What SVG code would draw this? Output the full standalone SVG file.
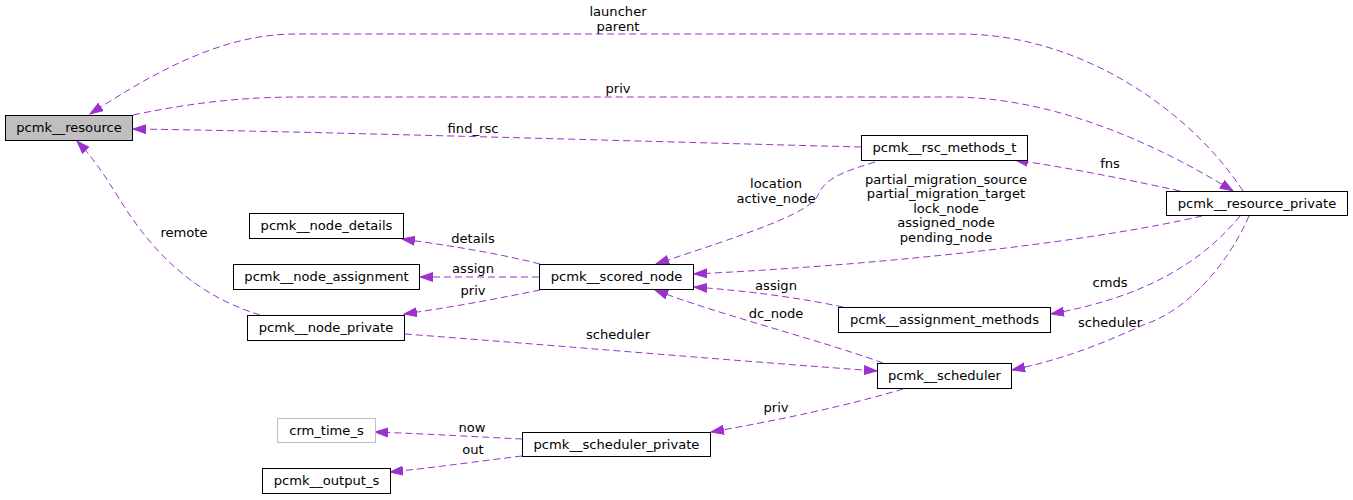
<svg xmlns="http://www.w3.org/2000/svg" width="1353" height="500" viewBox="0 0 1353 500">
<style>
text{font-family:"DejaVu Sans","Liberation Sans",sans-serif;font-size:13.1px;fill:#000;text-anchor:middle}
.n rect{fill:#fff;stroke:#000;stroke-width:1}
.e path{fill:none;stroke:#9a32cd;stroke-width:1;stroke-dasharray:7,4}
</style>
<defs>
<marker id="ah" markerUnits="userSpaceOnUse" markerWidth="15" markerHeight="11" refX="13" refY="5" orient="auto">
<path d="M0,0.5 L13,5 L0,9.5 z" fill="#9a32cd" stroke="#9a32cd" stroke-width="1"/>
</marker>
</defs>
<rect width="1353" height="500" fill="#fff"/>
<g id="edges" class="e">
<path d="M1243,191 C1190,110 1080,34 960,34 L295,34 C220,34 150,75 90,114" marker-end="url(#ah)"/>
<text x="618" y="16">launcher</text><text x="618" y="31">parent</text>
<path d="M133,115 C200,101 250,97 300,97 L950,97 C1050,97 1150,140 1233,191" marker-end="url(#ah)"/>
<text x="618" y="93">priv</text>
<path d="M861,147 C700,143 300,131 133,129" marker-end="url(#ah)"/>
<text x="473" y="133">find_rsc</text>
<path d="M1180,191 C1120,178 1070,168 1015,160" marker-end="url(#ah)"/>
<text x="1110" y="168">fns</text>
<path d="M1202,216 C1100,240 900,264 694,274" marker-end="url(#ah)"/>
<text x="946" y="184">partial_migration_source</text>
<text x="946" y="198">partial_migration_target</text>
<text x="946" y="213">lock_node</text>
<text x="946" y="227">assigned_node</text>
<text x="946" y="242">pending_node</text>
<path d="M875,162 C850,170 826,176 818,195 C810,214 740,236 656,264" marker-end="url(#ah)"/>
<text x="776" y="188">location</text><text x="776" y="203">active_node</text>
<path d="M540,264 C500,254 460,247 402,239" marker-end="url(#ah)"/>
<text x="473" y="243">details</text>
<path d="M539,277 L420,277" marker-end="url(#ah)"/>
<text x="473" y="273">assign</text>
<path d="M540,290 C500,298 460,306 404,314" marker-end="url(#ah)"/>
<text x="473" y="295">priv</text>
<path d="M260,315 C185,292 145,240 120,200 C105,176 95,160 77,141" marker-end="url(#ah)"/>
<text x="184" y="237">remote</text>
<path d="M405,334 C550,345 750,362 877,371" marker-end="url(#ah)"/>
<text x="618" y="339">scheduler</text>
<path d="M843,307 C800,298 750,291 694,287" marker-end="url(#ah)"/>
<text x="776" y="290">assign</text>
<path d="M883,363 C820,340 720,315 655,290" marker-end="url(#ah)"/>
<text x="776" y="318">dc_node</text>
<path d="M1240,216 C1200,265 1140,298 1051,314" marker-end="url(#ah)"/>
<text x="1110" y="287">cmds</text>
<path d="M1249,216 C1230,260 1190,310 1143,325 C1100,345 1060,360 1012,370" marker-end="url(#ah)"/>
<text x="1110" y="327">scheduler</text>
<path d="M903,389 C850,405 780,420 711,432" marker-end="url(#ah)"/>
<text x="776" y="412">priv</text>
<path d="M522,439 C480,437 430,434 375,432" marker-end="url(#ah)"/>
<text x="472" y="432">now</text>
<path d="M522,456 C480,461 440,467 390,472" marker-end="url(#ah)"/>
<text x="473" y="454">out</text>
</g>
<g id="pcmk__resource" class="n"><rect x="5.5" y="115.5" width="127" height="25" style="fill:#bfbfbf"/><text x="69" y="132">pcmk__resource</text></g>
<g id="pcmk__rsc_methods_t" class="n"><rect x="861.5" y="135.5" width="166" height="25"/><text x="944.5" y="152">pcmk__rsc_methods_t</text></g>
<g id="pcmk__resource_private" class="n"><rect x="1166.5" y="191.5" width="181" height="24"/><text x="1257" y="208">pcmk__resource_private</text></g>
<g id="pcmk__node_details" class="n"><rect x="249.5" y="213.5" width="154" height="25"/><text x="326.5" y="230">pcmk__node_details</text></g>
<g id="pcmk__node_assignment" class="n"><rect x="233.5" y="264.5" width="186" height="25"/><text x="326.5" y="281">pcmk__node_assignment</text></g>
<g id="pcmk__scored_node" class="n"><rect x="539.5" y="264.5" width="154" height="25"/><text x="616.5" y="281">pcmk__scored_node</text></g>
<g id="pcmk__node_private" class="n"><rect x="247.5" y="315.5" width="157" height="25"/><text x="326" y="332">pcmk__node_private</text></g>
<g id="pcmk__assignment_methods" class="n"><rect x="838.5" y="307.5" width="212" height="25"/><text x="944.5" y="324">pcmk__assignment_methods</text></g>
<g id="pcmk__scheduler" class="n"><rect x="877.5" y="363.5" width="134" height="25"/><text x="944.5" y="380">pcmk__scheduler</text></g>
<g id="crm_time_s" class="n"><rect x="277.5" y="418.5" width="98" height="24" style="stroke:#bfbfbf"/><text x="326.5" y="435">crm_time_s</text></g>
<g id="pcmk__scheduler_private" class="n"><rect x="522.5" y="432.5" width="188" height="24"/><text x="616.5" y="449">pcmk__scheduler_private</text></g>
<g id="pcmk__output_s" class="n"><rect x="262.5" y="468.5" width="128" height="25"/><text x="326.5" y="485">pcmk__output_s</text></g>
</svg>
